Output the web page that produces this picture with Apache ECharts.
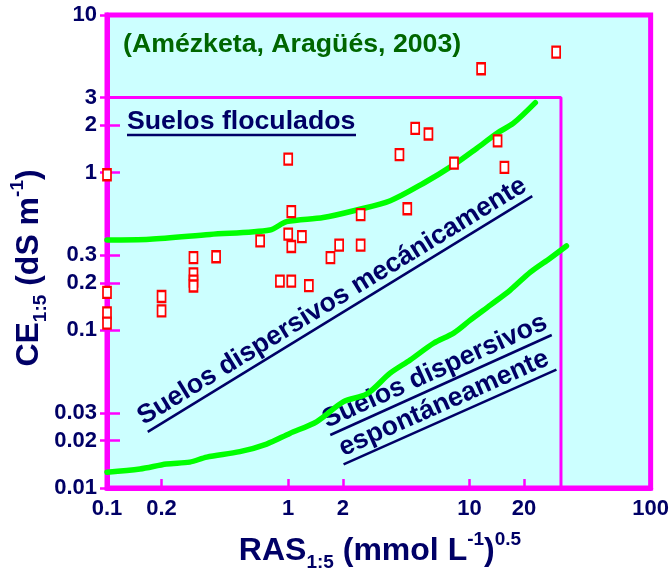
<!DOCTYPE html>
<html>
<head>
<meta charset="utf-8">
<script src="https://cdn.jsdelivr.net/npm/echarts@6/dist/echarts.min.js"></script>
<style>
  html, body { margin: 0; padding: 0; background: #fff; }
  #chart { width: 672px; height: 572px; }
</style>
</head>
<body>
<div id="chart"></div>
<script>
(function () {
  "use strict";

  /* ---- Data ---- */
  const xTicks = [0.1, 0.2, 1, 2, 10, 20, 100];
  const yTicks = [0.01, 0.02, 0.03, 0.1, 0.2, 0.3, 1, 2, 3, 10];

  // measured soils (RAS 1:5, CE 1:5)
  const obsRAS = [0.1, 0.1, 0.1, 0.1, 0.2, 0.2, 0.3, 0.3, 0.3, 0.3, 0.4,
    1.0, 1.04, 0.70, 1.0, 1.04, 1.19, 0.90, 1.04, 1.30, 1.71, 1.91, 2.51, 2.51,
    30.1, 11.6, 5.02, 5.94, 4.11, 8.22, 14.3, 15.6, 4.54];
  const obsCE = [0.97, 0.174, 0.129, 0.111, 0.164, 0.133, 0.289, 0.228, 0.205, 0.191, 0.293,
    1.22, 0.566, 0.369, 0.408, 0.34, 0.393, 0.205, 0.205, 0.192, 0.289, 0.347, 0.347, 0.542,
    5.82, 4.56, 1.91, 1.76, 1.30, 1.15, 1.59, 1.08, 0.59];

  // flocculated / mechanically dispersive boundary
  const upperRAS = [0.1, 0.172, 0.37, 0.793, 0.98, 1.56, 2.39, 3.66, 5.58, 8.18, 11.0, 14.2, 17.5, 23.1];
  const upperCE = [0.374, 0.378, 0.406, 0.433, 0.489, 0.519, 0.58, 0.664, 0.857, 1.12, 1.43, 1.78, 2.06, 2.78];

  // mechanically / spontaneously dispersive boundary
  const lowerRAS = [0.1, 0.152, 0.213, 0.286, 0.355, 0.541, 0.76, 1.02, 1.44, 2.02, 2.72, 3.65,
    4.71, 6.34, 8.18, 10.1, 13.1, 16.8, 21.7, 28.0, 34.3];
  const lowerCE = [0.0126, 0.0132, 0.0142, 0.0146, 0.0157, 0.017, 0.019, 0.0222, 0.0264, 0.0353, 0.0395, 0.0535,
    0.0649, 0.0828, 0.096, 0.116, 0.145, 0.18, 0.234, 0.288, 0.343];

  // inner frame of the study domain
  const boxRAS = [0.1, 32, 32];
  const boxCE = [3, 3, 0.01];

  /* ---- Style ---- */
  const NAVY = "#000066";
  const MAG = "#FF00FF";
  const FONT = "Liberation Sans, Arial, sans-serif";

  const zip = (a, b) => a.map((v, i) => [v, b[i]]);
  const fmt = v => String(+Number(v).toPrecision(3));

  const label = {
    color: NAVY, fontFamily: FONT, fontWeight: "bold", fontSize: 22, formatter: fmt
  };

  function underlined(x, y, deg, len, text, gap) {
    return {
      type: "group", x: x, y: y, rotation: deg * Math.PI / 180, z: 10,
      children: [
        { type: "text", x: 0, y: -gap, style: { text: text, fill: NAVY, font: "bold 26.7px " + FONT, align: "center", verticalAlign: "middle" } },
        { type: "line", shape: { x1: -len / 2, y1: 0, x2: len / 2, y2: 0 }, style: { stroke: NAVY, lineWidth: 2.5 } }
      ]
    };
  }

  const big = { fill: NAVY, fontFamily: FONT, fontWeight: "bold", fontSize: 32, lineHeight: 42 };
  const sub = { fill: NAVY, fontFamily: FONT, fontWeight: "bold", fontSize: 19, lineHeight: 21, verticalAlign: "bottom" };
  const sup = { fill: NAVY, fontFamily: FONT, fontWeight: "bold", fontSize: 19, lineHeight: 25, verticalAlign: "top" };

  const chart = echarts.init(document.getElementById("chart"), null, { renderer: "canvas" });
  chart.setOption({
    animation: false,
    backgroundColor: "#fff",
    grid: {
      left: 107, right: 21, top: 15, bottom: 84,
      show: true, backgroundColor: "#CCFFFF", borderColor: MAG, borderWidth: 5
    },
    xAxis: {
      type: "log", logBase: 10, min: 0.1, max: 100,
      axisLine: { lineStyle: { color: MAG, width: 5 } },
      axisTick: { inside: true, length: 9, customValues: xTicks, lineStyle: { color: MAG, width: 2.5 } },
      axisLabel: Object.assign({ customValues: xTicks, margin: 10 }, label),
      splitLine: { show: false }, minorTick: { show: false }
    },
    yAxis: [{
      type: "log", logBase: 10, min: 0.01, max: 10,
      axisLine: { lineStyle: { color: MAG, width: 5 } },
      axisTick: { inside: false, length: 7, customValues: yTicks, lineStyle: { color: MAG, width: 2.5 } },
      axisLabel: Object.assign({ customValues: yTicks, margin: 10 }, label),
      splitLine: { show: false }
    }, {
      type: "log", logBase: 10, min: 0.01, max: 10, position: "left",
      axisLine: { show: false },
      axisTick: { inside: true, length: 13, customValues: yTicks, lineStyle: { color: MAG, width: 2.5 } },
      axisLabel: { show: false },
      splitLine: { show: false }
    }],
    series: [
      {
        type: "line", data: zip(boxRAS, boxCE), symbol: "none", z: 2,
        lineStyle: { color: MAG, width: 3 }
      },
      {
        type: "line", data: zip(upperRAS, upperCE), symbol: "none", smooth: 0.3, z: 3,
        lineStyle: { color: "#00FF00", width: 5.5, cap: "round" }
      },
      {
        type: "line", data: zip(lowerRAS, lowerCE), symbol: "none", smooth: 0.3, z: 3,
        lineStyle: { color: "#00FF00", width: 5.5, cap: "round" }
      },
      {
        type: "scatter", data: zip(obsRAS, obsCE), symbol: "rect", symbolSize: [8, 11], z: 4,
        itemStyle: { color: "#fff", borderColor: "#FF0000", borderWidth: 2, opacity: 1 }
      }
    ],
    graphic: [
      { type: "text", x: 123, y: 45, z: 10, style: { text: "(Amézketa, Aragüés, 2003)", fill: "#006600", font: "bold 26.7px " + FONT, align: "left", verticalAlign: "middle" } },
      { type: "text", x: 127, y: 122, z: 10, style: { text: "Suelos floculados", fill: NAVY, font: "bold 26.7px " + FONT, align: "left", verticalAlign: "middle" } },
      { type: "line", z: 10, shape: { x1: 127, y1: 135, x2: 356, y2: 135 }, style: { stroke: NAVY, lineWidth: 2.5 } },
      underlined(340, 314, 31.5, 451, "Suelos dispersivos mecánicamente", 15),
      underlined(441, 385, 24.3, 243, "Suelos dispersivos", 15),
      underlined(450, 417, 24, 233, "espontáneamente", 15),
      {
        type: "text", x: 29, y: 268, rotation: Math.PI / 2, z: 10,
        style: {
          text: "{a|CE}{b|1:5}{a| (dS m}{c|-1}{a|)}",
          align: "center", verticalAlign: "middle",
          rich: { a: big, b: sub, c: sup }
        }
      },
      {
        type: "text", x: 380, y: 551, z: 10,
        style: {
          text: "{a|RAS}{b|1:5}{a| (mmol L}{c|-1}{a|)}{c|0.5}",
          align: "center", verticalAlign: "middle",
          rich: { a: big, b: sub, c: sup }
        }
      }
    ]
  });
})();
</script>
</body>
</html>
